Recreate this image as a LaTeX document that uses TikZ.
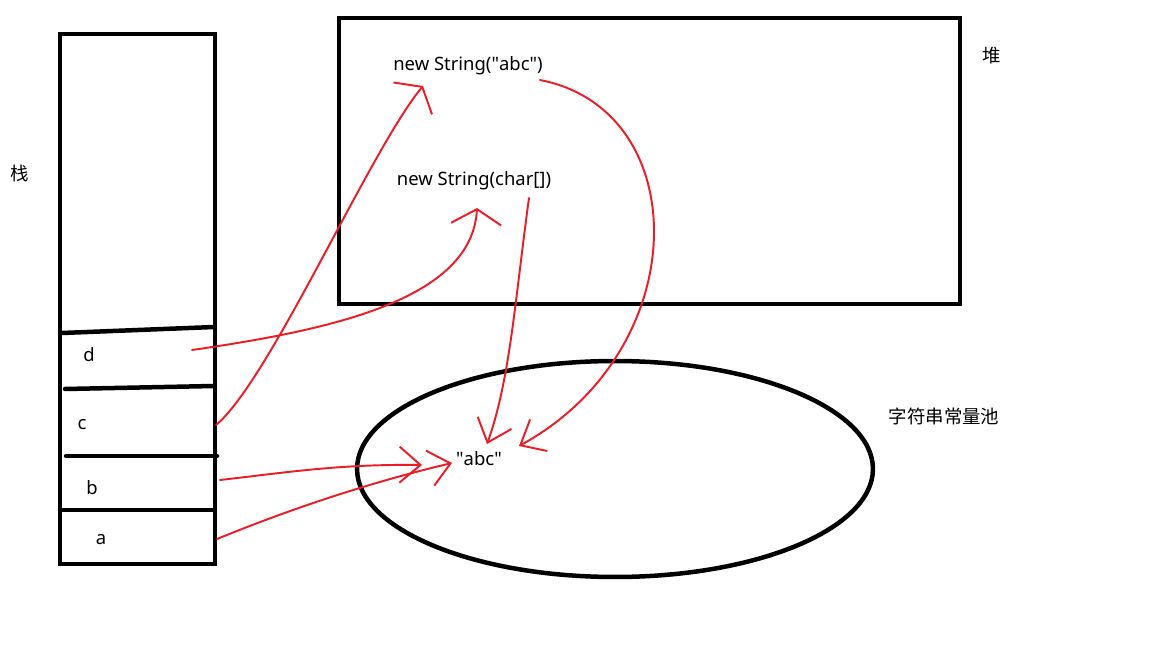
\documentclass[tikz,border=0pt]{standalone}
\usepackage{fontspec}
\setmainfont{Noto Sans}
\newfontfamily\cjk{Noto Sans CJK SC}
\usetikzlibrary{arrows.meta}
\definecolor{paintred}{RGB}{237,28,36}

\begin{document}
\begin{tikzpicture}[x=0.02cm,y=-0.02cm,
    wall/.style={line width=0.09cm,line cap=round},
    txt/.style={inner sep=0pt,font=\fontsize{10.5}{12}\selectfont},
    ref/.style={draw=paintred,line width=1.1pt,line cap=round,line join=round,
      -{Straight Barb[length=0.42cm,width=0.72cm,line width=1.1pt]}},
    wide/.style={-{Straight Barb[length=0.3cm,width=1.0cm,line width=1.1pt]}}]
  \useasboundingbox (0,0) rectangle (1152,648);

  \draw[wall] (60,34) rectangle (215,564);
  \draw[wall] (62,333) -- (214,327); \draw[wall] (65,389) -- (214,386);
  \draw[wall] (66,456) -- (217,456); \draw[wall] (60,510) -- (214,510);
  \draw[wall] (339,18) rectangle (960,304);
  \draw[wall] (615,469) ellipse [x radius=5.16cm,y radius=2.16cm];

  \node[txt] (stack) at (20,173) {\cjk 栈};
  \node[txt] (heap) at (992,56) {\cjk 堆};
  \node[txt] (pool) at (944,416) {\cjk 字符串常量池};
  \node[txt] (vd) at (89,355) {d}; \node[txt] (vc) at (82,425) {c};
  \node[txt] (vb) at (92,488) {b}; \node[txt] (va) at (101,540) {a};
  \node[txt] (objAbc) at (468,66) {new String(\textquotedbl abc\textquotedbl)};
  \node[txt] (objChar) at (474,181) {new String(char[])};
  \node[txt] (lit) at (479,459) {\textquotedbl abc\textquotedbl};

  \coordinate (dS) at (192,350); \coordinate (dT) at (477,208);
  \coordinate (cS) at (216,425); \coordinate (cT) at (423,86);
  \coordinate (bS) at (220,480); \coordinate (bT) at (422,465);
  \coordinate (aS) at (217,539); \coordinate (aT) at (452,463);
  \coordinate (hS) at (540,80); \coordinate (hT) at (519,446);
  \coordinate (chS) at (529,198); \coordinate (chT) at (487,444);

  \draw[ref,wide] (dS) .. controls (330,330) and (472,300) .. (dT);
  \draw[ref,wide] (cS) .. controls (270,380) and (370,150) .. (cT);
  \draw[ref] (bS) .. controls (290,472) and (340,464) .. (bT);
  \draw[ref] (aS) .. controls (300,505) and (380,480) .. (aT);
  \draw[ref] (hS) .. controls (695,110) and (695,350) .. (hT);
  \draw[ref] (chS) .. controls (515,300) and (510,380) .. (chT);
\end{tikzpicture}
\end{document}
